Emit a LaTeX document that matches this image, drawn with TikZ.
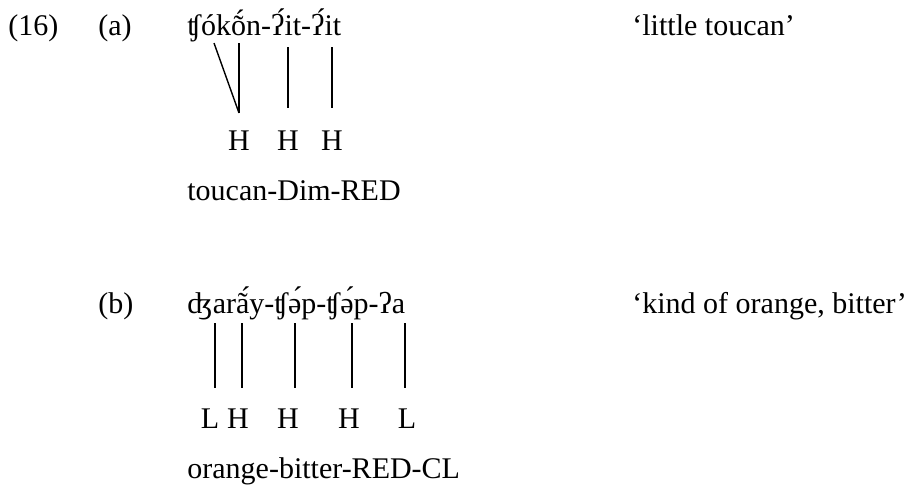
\documentclass[tikz,border=0pt]{standalone}
\usepackage{fontspec}
\setmainfont{Liberation Serif}
\usepackage{tikz}

\tikzset{
  txt/.style={anchor=base west,inner sep=0pt,font=\fontsize{15}{18}\selectfont},
  tone/.style={anchor=base,inner sep=0pt,font=\fontsize{15}{18}\selectfont},
  assoc/.style={line width=0.7pt,black}
}

\begin{document}
\begin{tikzpicture}[x=0.5pt,y=-0.5pt]
\useasboundingbox (0,0) rectangle (905,489);
% (a)
\node[txt] (num) at (8,35) {(16)};
\node[txt] (la) at (98,35) {(a)};
\node[txt] (wa) at (187,35) {ʧókṍn-ʔ́it-ʔ́it};
\node[txt] (ga) at (632,35) {‘little toucan’};
\node[tone] (h1) at (239,150) {H};
\node[tone] (h2) at (288,150) {H};
\node[tone] (h3) at (332,150) {H};
\node[txt] (ia) at (187,200) {toucan-Dim-RED};
\coordinate (a0) at (214,43);
\coordinate (a1) at (239,43);
\coordinate (a2) at (288,47);
\coordinate (a3) at (332,47);
\coordinate (j1) at (239,113);
\draw[assoc] (a0) -- (j1);
\draw[assoc] (a1) -- (j1);
\draw[assoc,shorten >=11pt] (a2) -- (a2 |- h2.north);
\draw[assoc,shorten >=11pt] (a3) -- (a3 |- h3.north);
% (b)
\node[txt] (lb) at (98,313) {(b)};
\node[txt] (wb) at (187,313) {ʤarã́y-ʧə́p-ʧə́p-ʔa};
\node[txt] (gb) at (632,313) {‘kind of orange, bitter’};
\node[tone] (t1) at (210,428) {L};
\node[tone] (t2) at (238,428) {H};
\node[tone] (t3) at (288,428) {H};
\node[tone] (t4) at (349,428) {H};
\node[tone] (t5) at (407,428) {L};
\node[txt] (ib) at (187,478) {orange-bitter-RED-CL};
\coordinate (b1) at (215,323);
\coordinate (b2) at (242,323);
\coordinate (b3) at (295,323);
\coordinate (b4) at (352,323);
\coordinate (b5) at (405,323);
\foreach \i in {1,...,5}
  \draw[assoc,shorten >=10pt] (b\i) -- (b\i |- t\i.north);
\end{tikzpicture}
\end{document}
